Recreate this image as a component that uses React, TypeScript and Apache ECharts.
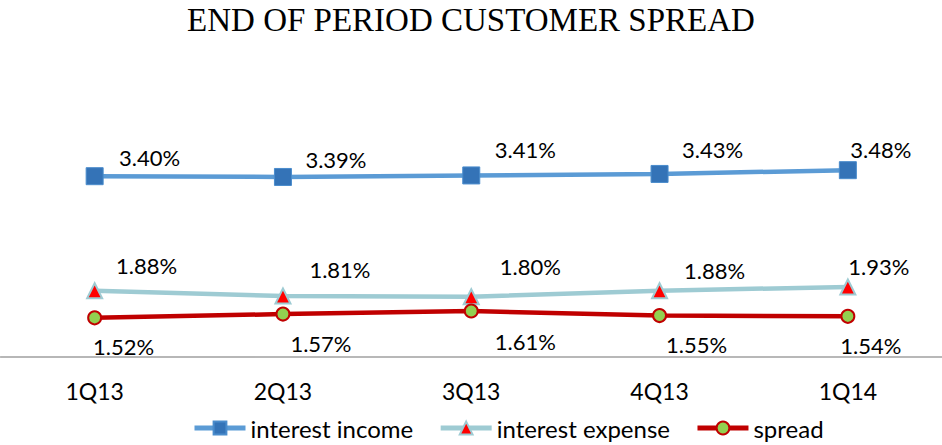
import React, { useEffect, useRef } from "react";
import * as echarts from "echarts";

const categories = ["1Q13", "2Q13", "3Q13", "4Q13", "1Q14"];
const interestIncome = [3.40, 3.39, 3.41, 3.43, 3.48];
const interestExpense = [1.88, 1.81, 1.80, 1.88, 1.93];
const spread = [1.52, 1.57, 1.61, 1.55, 1.54];

const incomeLabelOffsets = [[55, -19], [53, -17], [54, -26], [53, -24], [33, -21]];
const expenseLabelOffsets = [[52, -25], [57, -26], [59, -30], [55, -20], [31, -20]];
const spreadLabelOffsets = [[29, 29], [38, 29], [54, 30], [37, 29], [23, 29]];

const FONT = "Lato";

function withLabels(values: number[], offsets: number[][]) {
  return values.map((v, i) => ({
    value: v,
    label: { offset: offsets[i] },
  }));
}

export default function App() {
  const ref = useRef<HTMLDivElement>(null);
  useEffect(() => {
    if (!ref.current) return;
    document.body.style.margin = "0";
    const chart = echarts.init(ref.current, undefined, { renderer: "svg" });
    const labelBase = {
      show: true,
      position: "inside" as const,
      color: "#000",
      fontFamily: FONT,
      fontSize: 22,
      formatter: (p: any) => Number(p.value).toFixed(2) + "%",
    };
    chart.setOption({
      animation: false,
      backgroundColor: "#fff",
      title: {
        text: "END OF PERIOD CUSTOMER SPREAD",
        left: "center",
        top: -2,
        textStyle: {
          fontFamily: "Liberation Serif",
          fontWeight: "normal",
          fontSize: 33,
          color: "#000",
        },
      },
      legend: {
        top: 416,
        left: 192,
        padding: 0,
        itemWidth: 51,
        itemHeight: 16,
        itemGap: 25,
        lineStyle: { width: 5 },
        textStyle: { fontFamily: FONT, fontSize: 24, color: "#000" },
        data: ["interest income", "interest expense", "spread"],
      },
      grid: { left: 0.5, right: -3.5, top: 131, bottom: 88 },
      xAxis: {
        type: "category",
        data: categories,
        boundaryGap: true,
        axisLine: { lineStyle: { color: "#a0a0a0", width: 1.5 } },
        axisTick: { show: false },
        axisLabel: {
          fontFamily: FONT,
          fontSize: 23,
          color: "#000",
          margin: 22,
        },
      },
      yAxis: {
        type: "value",
        min: 1,
        max: 4,
        show: false,
        splitLine: { show: false },
      },
      series: [
        {
          name: "interest income",
          type: "line",
          data: withLabels(interestIncome, incomeLabelOffsets),
          symbol: "rect",
          symbolSize: 17,
          lineStyle: { color: "#5b9bd5", width: 4.5 },
          itemStyle: { color: "#3473b7", borderColor: "#4a8ccc", borderWidth: 1 },
          label: labelBase,
        },
        {
          name: "interest expense",
          type: "line",
          data: withLabels(interestExpense, expenseLabelOffsets),
          symbol: "triangle",
          symbolSize: 15,
          lineStyle: { color: "#9ecbd3", width: 4.5 },
          itemStyle: { color: "#ff0000", borderColor: "#9ecbd3", borderWidth: 2 },
          label: labelBase,
        },
        {
          name: "spread",
          type: "line",
          data: withLabels(spread, spreadLabelOffsets),
          symbol: "circle",
          symbolSize: 13,
          lineStyle: { color: "#c00000", width: 4.5 },
          itemStyle: { color: "#92d050", borderColor: "#c00000", borderWidth: 2 },
          label: labelBase,
        },
      ],
    });
    return () => chart.dispose();
  }, []);
  return <div ref={ref} style={{ width: 942, height: 445 }} />;
}
